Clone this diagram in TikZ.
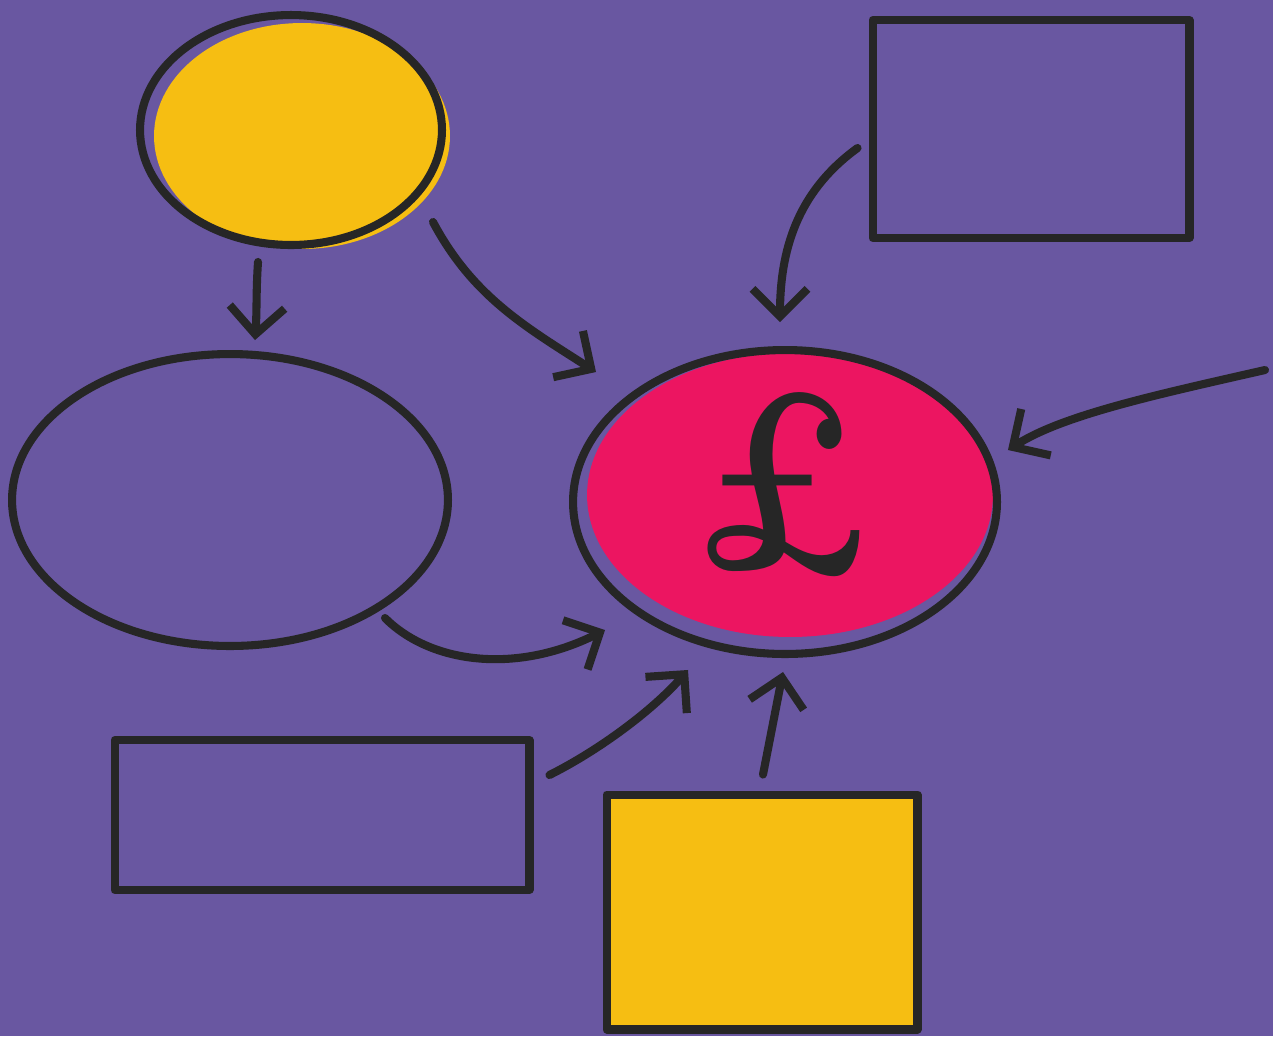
\documentclass[tikz,border=0pt]{standalone}
\usepackage{fontspec}
\usepackage{graphicx}
\usetikzlibrary{shapes.geometric,arrows.meta,calc}
\definecolor{bgpurple}{HTML}{6957A1}
\definecolor{sunyellow}{HTML}{F6BE12}
\definecolor{hotpink}{HTML}{EC1561}
\definecolor{ink}{HTML}{262626}
\begin{document}
\begin{tikzpicture}[x=0.02cm,y=-0.02cm,
  inkline/.style={draw=ink, line width=4.6pt, line cap=round, line join=round},
  conn/.style={inkline, -{Straight Barb[length=0.55cm,width=1.1cm]}},
  oval/.style={ellipse, inner sep=0pt, outer sep=0pt},
  box/.style={rectangle, inner sep=0pt, outer sep=0pt, inkline}
]
\fill[bgpurple] (0,0) rectangle (1273,1036);
\useasboundingbox (0,0) rectangle (1273,1036);

% fills (offset like marker colour under the outline)
\node[oval, fill=sunyellow, minimum width=5.92cm, minimum height=4.52cm] (yelfill) at (302,136) {};
\node[oval, fill=hotpink, minimum width=8.12cm, minimum height=5.68cm] (moneyfill) at (790,495) {};

% outlines
\node[oval, inkline, minimum width=6.04cm, minimum height=4.6cm] (yel) at (291,130) {};
\node[oval, inkline, minimum width=8.72cm, minimum height=5.84cm] (blob) at (230,500) {};
\node[oval, inkline, minimum width=8.48cm, minimum height=6.08cm] (money) at (785,502) {};
\node (pound) at (784,485) {\scalebox{0.82}[1]{\fontsize{146}{146}\selectfont\bfseries\color{ink}£}};

\node[box, minimum width=6.34cm, minimum height=4.36cm] (rtb) at (1031,129) {};
\node[box, minimum width=8.3cm, minimum height=3.0cm] (lbox) at (322,815) {};
\node[box, fill=sunyellow, minimum width=6.22cm, minimum height=4.7cm] (ybox) at (762,912) {};

\coordinate (edge) at (1265,370);

% connectors
\draw[conn] ($(yel.south)+(-33,17)$) .. controls +(-2,30) and +(2,-30) .. ($(blob.north)+(25,-14)$);
\draw[conn] ($(yel.center)+(142,92)$) .. controls +(40,75) and +(-70,-45) .. ($(money.center)+(-189,-130)$);
\draw[conn] ($(rtb.west)+(-15,19)$) .. controls +(-55,40) and +(0,-80) .. ($(money.north)+(-5,-28)$);
\draw[conn] (edge) .. controls +(-110,25) and +(55,-35) .. ($(money.east)+(11,-52)$);
\draw[conn] ($(blob.center)+(155,118)$) .. controls +(45,45) and +(-90,45) .. ($(money.center)+(-180,128)$);
\draw[conn] ($(lbox.east)+(20,-40)$) .. controls +(50,-25) and +(-35,40) .. ($(money.south)+(-97,16)$);
\draw[conn] ($(ybox.north)+(1,-20)$) -- ($(money.south)+(-2,18)$);
\end{tikzpicture}
\end{document}
